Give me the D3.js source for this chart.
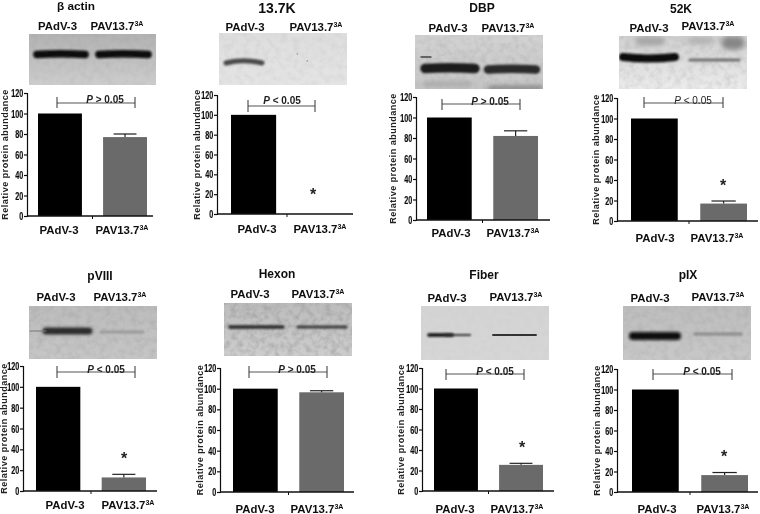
<!DOCTYPE html>
<html><head><meta charset="utf-8">
<style>html,body{margin:0;padding:0;background:#fff}svg{display:block}text{font-family:"Liberation Sans",Arial,sans-serif}</style>
<script src="https://cdn.jsdelivr.net/npm/d3@7"></script></head>
<body><svg id="c" width="760" height="514"></svg>
<script>
// ---- chart values ----
const panelTitles = ["β actin","13.7K","DBP","52K","pVIII","Hexon","Fiber","pIX"];
const groupNames = ["PAdV-3","PAV13.7"];
const groupSuffix = "3A";
const yTicks = [0,20,40,60,80,100,120];
const controlValues = [100,100,100,100,100,100,100,100];
const mutantValues = [77,0,82,17,13,96.5,25.5,16.5];
const mutantTops = [80,null,87,19.5,16,98,27,19];
const pLabels = ["> 0.05","< 0.05","> 0.05","< 0.05","< 0.05","> 0.05","< 0.05","< 0.05"];
const axisTitle = "Relative protein abundance";

// ---- layout (pixel frames of each panel) ----
const frames = [
 {title:[76,5.5,11.8],blotLab:[57.5,26,117,26],blot:[29,34,127,51],ax:[27,153,216,93],bars:[38,147],br:[57,135,103,97,108],p:[105,99],star:null,xl:[59,122,230],bg:["#b2b2b2","#cdcdcd"],at:[5,154.5]},
 {title:[277,8,14],blotLab:[245,27,316,27],blot:[219,33,128,52],ax:[217,353,214,95],bars:[231,343],br:[248,315,106,100,112],p:[282,100],star:[313,192],xl:[257,320,229],bg:["#dedede","#e4e4e4"],at:[197,154.5]},
 {title:[482,8,12],blotLab:[448,28,508,28],blot:[415,35,128,54],ax:[416,550,220,97],bars:[427,538],br:[442,520,104,99,110],p:[490,101],star:null,xl:[451,513,233],bg:["#d2d2d2","#c6c6c6"],at:[393,158.5]},
 {title:[681,8.5,12],blotLab:[649,28,708,26],blot:[619,36,128,53],ax:[617,758,221,98],bars:[631,747],br:[644,723,103,97,108],p:[693,100],star:[723,183],xl:[655,717,238],bg:["#d0d0d0","#ececec"],thinP:true,at:[596,159.5]},
 {title:[100,276,12],blotLab:[56,297,120,297],blot:[29,306,128,53],ax:[23,157,491,366],bars:[36,146],br:[57,135,372,366,378],p:[106,369],star:[124,456],xl:[65,128,505],bg:["#bcbcbc","#c6c6c6"],at:[4,428.5]},
 {title:[277,274,12],blotLab:[250,294,318,294],blot:[224,303,128,53],ax:[220,354,492,368],bars:[233,344],br:[249,327,372,366,378],p:[297,369],star:null,xl:[255,317,509],bg:["#bcbcbc","#cdcdcd"],at:[200,430]},
 {title:[484,275,12],blotLab:[447,298,516,297],blot:[421,306,128,54],ax:[422,554,491,368],bars:[434,543],br:[446,524,374,369,380],p:[495,371],star:[522,445],xl:[455,517,509],bg:["#d4d4d4","#d6d6d6"],at:[401,429.5]},
 {title:[688,275,12],blotLab:[650,298,718,297],blot:[623,306,128,54],ax:[617,758,492,369],bars:[632,748],br:[653,732,374,369,380],p:[702,371],star:[724,454],xl:[657,723,509],bg:["#bdbdbd","#c8c8c8"],at:[597,430.5]}
];
// blot bands per panel: x0,x1,y (page px), thickness, colour, bow, blur
const blotBands = [
 [[37,85,54,7.5,"#0a0a0a",1,.9],[99,148,54,7.5,"#0a0a0a",1,.9]],
 [[226,262,61.5,5,"#4a4a4a",3,1.3],[297,297.6,54,1,"#777",0,.2],[307,307.6,61,1,"#666",0,.2]],
 [[425,475,68,9.5,"#1e1e1e",1,1.2],[488,536,69,8.5,"#2a2a2a",1,1.2],[421,431,57,1.3,"#444",0,.4],[425,470,84,5,"#aaa",0,2],[490,540,88,5,"#888",0,2]],
 [[623,675,58,8,"#0d0d0d",-2,1.1],[690,739,60,3,"#6e6e6e",0,.9],[640,660,41,9,"#a6a6a6",0,2.5],[690,710,41,6,"#b0b0b0",0,2.5],[728,738,43,13,"#868686",0,2.5]],
 [[46,89,331,7,"#2c2c2c",0,1.4],[30,46,331,1.2,"#777",0,.5],[101,143,332,3.2,"#999",0,1.1]],
 [[230,283,327,3.4,"#2a2a2a",0,.8],[298,346,327,3,"#3a3a3a",0,.8]],
 [[429,452,335,3.6,"#0a0a0a",0,1],[446,470,335,2.2,"#333",0,.9],[493,536,335,1.9,"#333",0,.6]],
 [[633,677,336,8,"#0a0a0a",0,1.4],[695,741,334,3.2,"#8a8a8a",0,1.2]]
];
const blotNoise = [.12,.1,.2,.2,.22,.42,.04,.18];

const svg = d3.select("#c");
const defs = svg.append("defs");
defs.append("filter").attr("id","soft").attr("filterUnits","userSpaceOnUse").attr("x",0).attr("y",0).attr("width",760).attr("height",514)
  .append("feGaussianBlur").attr("stdDeviation",0.3);
const nf = defs.append("filter").attr("id","noise").attr("x",0).attr("y",0).attr("width","100%").attr("height","100%");
nf.append("feTurbulence").attr("type","fractalNoise").attr("baseFrequency",.16).attr("numOctaves",3).attr("seed",7);
nf.append("feColorMatrix").attr("values","0 0 0 0 .25 0 0 0 0 .25 0 0 0 0 .25 2.2 0 0 0 -.85");
const root = svg.append("g").attr("filter","url(#soft)");

function addLabel(g,x,y,suffix,name,size){
  const t = g.append("text").attr("x",x).attr("y",y).attr("text-anchor","middle")
    .attr("font-weight","bold").attr("font-size",size).attr("fill","#0d0d0d").text(name);
  if(suffix) t.append("tspan").attr("dy",-3.6).attr("font-size",size*.62).text(suffix);
}

frames.forEach((f,i)=>{
  const g = root.append("g");
  // title
  g.append("text").attr("x",f.title[0]).attr("y",f.title[1]+f.title[2]*.36).attr("text-anchor","middle")
    .attr("font-weight","bold").attr("font-size",f.title[2]).attr("fill","#111").text(panelTitles[i]);
  // blot labels
  addLabel(g,f.blotLab[0],f.blotLab[1]+4,null,groupNames[0],11.4);
  addLabel(g,f.blotLab[2],f.blotLab[3]+4,groupSuffix,groupNames[1],11.4);
  // blot image
  const gid = "bg"+i;
  const lg = defs.append("linearGradient").attr("id",gid).attr("x1",0).attr("x2",0).attr("y1",0).attr("y2",1);
  lg.append("stop").attr("offset",0).attr("stop-color",f.bg[0]);
  lg.append("stop").attr("offset",1).attr("stop-color",f.bg[1]);
  const [bx,by,bw,bh] = f.blot;
  const clipId="clip"+i;
  defs.append("clipPath").attr("id",clipId).append("rect").attr("x",bx).attr("y",by).attr("width",bw).attr("height",bh);
  const bg = g.append("g").attr("clip-path",`url(#${clipId})`);
  bg.append("rect").attr("x",bx).attr("y",by).attr("width",bw).attr("height",bh).attr("fill",`url(#${gid})`);
  bg.append("rect").attr("x",bx).attr("y",by).attr("width",bw).attr("height",bh).attr("filter","url(#noise)").attr("opacity",blotNoise[i]);
  blotBands[i].forEach((b,j)=>{
    const fid=`bl${i}_${j}`;
    defs.append("filter").attr("id",fid).attr("filterUnits","userSpaceOnUse")
      .attr("x",bx-10).attr("y",by-10).attr("width",bw+20).attr("height",bh+20)
      .append("feGaussianBlur").attr("stdDeviation",b[6]);
    const [x0,x1,y,th,col,bow]=b;
    bg.append("path").attr("d",`M${x0},${y+bow/2}Q${(x0+x1)/2},${y-bow} ${x1},${y+bow/2}`)
      .attr("fill","none").attr("stroke",col).attr("stroke-width",th).attr("stroke-linecap","round")
      .attr("filter",`url(#${fid})`);
  });
  // scales
  const [axL,axR,y0,y120]=f.ax;
  const y = d3.scaleLinear().domain([0,120]).range([y0,y120]);
  const x = d3.scaleBand().domain(groupNames).range(f.bars).paddingInner(0.325).paddingOuter(0);
  const pairs=[controlValues[i],mutantValues[i]];
  // bars
  g.selectAll(".bar").data(groupNames).join("rect").attr("class","bar")
    .attr("x",d=>x(d)).attr("width",x.bandwidth())
    .attr("y",(d,k)=>y(pairs[k])).attr("height",(d,k)=>y0-y(pairs[k]))
    .attr("fill",(d,k)=>k===0?"#000":"#6a6a6a");
  // error bar
  if(mutantTops[i]!==null){
    const cx=x(groupNames[1])+x.bandwidth()/2;
    const capW=x.bandwidth()*.52;
    g.append("line").attr("x1",cx).attr("x2",cx).attr("y1",y(mutantValues[i])).attr("y2",y(mutantTops[i])).attr("stroke","#222").attr("stroke-width",1.2);
    g.append("line").attr("x1",cx-capW/2).attr("x2",cx+capW/2).attr("y1",y(mutantTops[i])).attr("y2",y(mutantTops[i])).attr("stroke","#222").attr("stroke-width",1.2);
  }
  // y axis
  const ya=g.append("g").attr("transform",`translate(${axL},0)`)
    .call(d3.axisLeft(y).tickValues(yTicks).tickSize(3).tickPadding(1));
  ya.selectAll("path,line").attr("stroke","#111").attr("stroke-width",1.2);
  ya.selectAll("text").attr("x",0).attr("transform","translate(-3.7,0) scale(.66,1)")
    .attr("font-weight","bold").attr("font-size",11).attr("fill","#111").attr("stroke","#111").attr("stroke-width",.2);
  // x axis: baseline and centre tick
  const xa=g.append("g");
  const mid=(x(groupNames[0])+x.bandwidth()+x(groupNames[1]))/2;
  xa.append("line").attr("x1",axL).attr("x2",axR).attr("y1",y0).attr("y2",y0).attr("stroke","#111").attr("stroke-width",1.4);
  xa.append("line").attr("x1",mid).attr("x2",mid).attr("y1",y0).attr("y2",y0+3).attr("stroke","#111").attr("stroke-width",1);
  // axis title
  g.append("text").attr("transform",`translate(${f.at[0]+3.2},${f.at[1]}) rotate(-90)`).attr("text-anchor","middle")
    .attr("font-weight","bold").attr("font-size",9).attr("letter-spacing",0.5).attr("fill","#222").text(axisTitle);
  // category labels
  addLabel(g,f.xl[0],f.xl[2]+4,null,groupNames[0],11.4);
  addLabel(g,f.xl[1],f.xl[2]+4,groupSuffix,groupNames[1],11.4);
  // significance bracket
  const [b0,b1,by0,bt,bb]=f.br;
  const brG=g.append("g").attr("stroke","#333").attr("stroke-width",1);
  brG.append("line").attr("x1",b0).attr("x2",b1).attr("y1",by0).attr("y2",by0).attr("stroke","#555");
  brG.append("line").attr("x1",b0).attr("x2",b0).attr("y1",bt).attr("y2",bb);
  brG.append("line").attr("x1",b1).attr("x2",b1).attr("y1",bt).attr("y2",bb);
  const pt=g.append("text").attr("x",f.p[0]).attr("y",f.p[1]+3.6).attr("text-anchor","middle")
    .attr("font-size",10).attr("font-weight",f.thinP?"normal":"bold").attr("fill","#222");
  pt.append("tspan").attr("font-style","italic").text("P");
  pt.append("tspan").text(" "+pLabels[i]);
  // star
  if(f.star) g.append("text").attr("x",f.star[0]).attr("y",f.star[1]+8).attr("text-anchor","middle")
    .attr("font-size",16).attr("font-weight","bold").attr("fill","#222").text("*");
});
</script></body></html>
